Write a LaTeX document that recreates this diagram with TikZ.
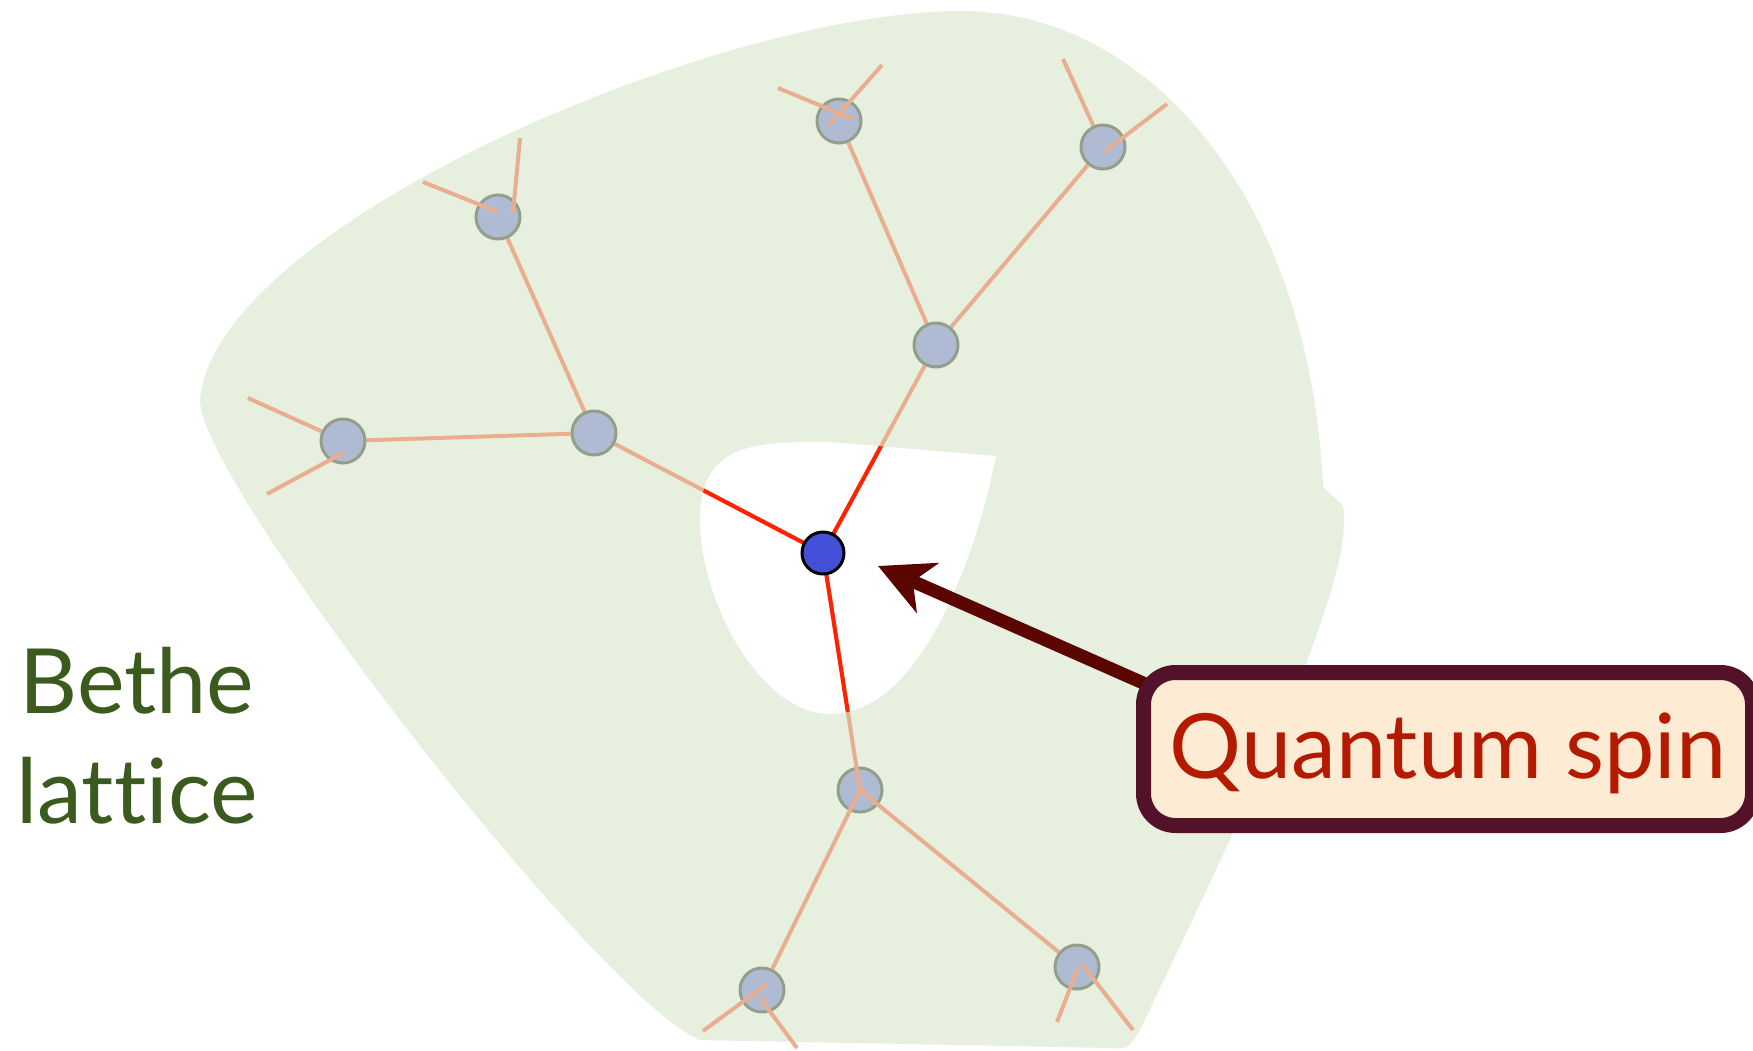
\documentclass[tikz,border=0pt]{standalone}
\usepackage{fontspec}
\setmainfont{Lato}[Ligatures={NoCommon}]
\usetikzlibrary{arrows.meta}
\pgfdeclarelayer{back}
\pgfdeclarelayer{bg}
\pgfdeclarelayer{front}
\pgfsetlayers{back,bg,main,front}
\definecolor{blobc}{HTML}{E7F0DF}
\definecolor{peach}{HTML}{E9AE8F}
\definecolor{hotred}{HTML}{FF2200}
\definecolor{sitefill}{HTML}{AFBBD3}
\definecolor{siteborder}{HTML}{939F8A}
\definecolor{spinfill}{HTML}{4550D8}
\definecolor{arrowc}{HTML}{5A0500}
\definecolor{boxb}{HTML}{54112A}
\definecolor{boxf}{HTML}{FDEBD3}
\definecolor{qred}{HTML}{B41A00}
\definecolor{gtext}{HTML}{3B5B1E}
\begin{document}
\begin{tikzpicture}[x=1pt,y=-1pt,
  site/.style={circle, fill=sitefill, draw=siteborder, line width=3pt, minimum size=44pt, inner sep=0pt},
  spin/.style={circle, fill=spinfill, draw=black, line width=3pt, minimum size=42pt, inner sep=0pt},
  bond/.style={draw=peach, line width=4pt},
  hot/.style={draw=hotred, line width=4pt},
  bigfont/.style={font=\fontsize{90}{110}\selectfont}]
\useasboundingbox (0,0) rectangle (1753,1050);

% background blob and hole
\begin{pgfonlayer}{back}
\fill[blobc] (1323,487) .. controls (1310,200) and (1150,11) .. (961,11)
  .. controls (720,11) and (215,225) .. (200,400)
  .. controls (198,480) and (600,1000) .. (700,1040)
  -- (1110,1048) .. controls (1128,1049) .. (1140,1030)
  .. controls (1250,800) and (1345,600) .. (1344,520)
  .. controls (1344,506) .. (1336,499) -- cycle;
\fill[white] (996,456) .. controls (975,560) and (920,714) .. (830,714)
  .. controls (760,714) and (700,600) .. (700,520)
  .. controls (700,440) and (760,442) .. (830,442) -- cycle;
\end{pgfonlayer}

\coordinate (c0) at (823,553);
\node[site] (A) at (594,433) {};
\node[site] (B) at (343,441) {};
\node[site] (C) at (498,217) {};
\node[site] (D) at (936,345) {};
\node[site] (E) at (839,121) {};
\node[site] (F) at (1103,147) {};
\node[site] (G) at (860,790) {};
\node[site] (H) at (762,990) {};
\node[site] (I) at (1077,967) {};

% free ends of the outer bonds
\coordinate (b1) at (248,398);
\coordinate (b2a) at (267,494);  \coordinate (b2b) at (343,453);
\coordinate (c1a) at (423,182);  \coordinate (c1b) at (498,212);
\coordinate (c2a) at (520,138);  \coordinate (c2b) at (513,213);
\coordinate (e1a) at (778,88);   \coordinate (e1b) at (853,119);
\coordinate (e2a) at (882,65);   \coordinate (e2b) at (829,125);
\coordinate (f1) at (1063,59);
\coordinate (f2a) at (1167,104); \coordinate (f2b) at (1104,152);
\coordinate (h1a) at (703,1031); \coordinate (h1b) at (767,984);
\coordinate (h2a) at (760,998);  \coordinate (h2b) at (797,1048);
\coordinate (i1a) at (1057,1022);\coordinate (i1b) at (1078,968);
\coordinate (i2a) at (1082,964); \coordinate (i2b) at (1133,1030);

% bonds under the sites
\begin{pgfonlayer}{bg}
\draw[bond] (c0) -- (A);
\draw[bond] (c0) -- (D);
\draw[bond] (A) -- (B);
\draw[bond] (A) -- (C);
\draw[bond] (D) -- (E);
\draw[bond] (D) -- (F);
\draw[bond] (b1) -- (B);
\draw[bond] (f1) -- (F);
\end{pgfonlayer}

\begin{pgfonlayer}{front}
% bonds over the sites
\draw[bond] (c0) -- (G.center);
\draw[bond] (G.center) -- (H);
\draw[bond] (G.center) -- (I);
\draw[bond] (b2a) -- (b2b);
\draw[bond] (c1a) -- (c1b);
\draw[bond] (c2a) -- (c2b);
\draw[bond] (e1a) -- (e1b);
\draw[bond] (e2a) -- (e2b);
\draw[bond] (f2a) -- (f2b);
\draw[bond] (h1a) -- (h1b);
\draw[bond] (h2a) -- (h2b);
\draw[bond] (i1a) -- (i1b);
\draw[bond] (i2a) -- (i2b);
% red parts inside the hole
\begin{scope}
\clip (996,456) .. controls (975,560) and (920,714) .. (830,714)
  .. controls (760,714) and (700,600) .. (700,520)
  .. controls (700,440) and (760,442) .. (830,442) -- cycle;
\draw[hot] (c0) -- (A);
\draw[hot] (c0) -- (D);
\draw[hot] (c0) -- (G.center);
\end{scope}
\node[spin] (C0) at (c0) {};

% arrow and label
\coordinate (tail) at (1150,686);
\coordinate (tip) at (878,566);
\draw[arrowc, line width=13pt, -{Stealth[length=54pt,width=54pt,inset=16pt]}] (tail) -- (tip);
\node[draw=boxb, fill=boxf, line width=15pt, rounded corners=32pt,
      minimum width=609pt, minimum height=153pt, inner sep=0pt,
      text=qred, bigfont, text height=65pt, text depth=7pt] (qs) at (1448,749) {Quantum spin};
\end{pgfonlayer}

\node[text=gtext, bigfont, anchor=base] (bethe) at (137,713) {Bethe};
\node[text=gtext, bigfont, anchor=base] (lattice) at (137,823) {lattice};
\end{tikzpicture}
\end{document}
